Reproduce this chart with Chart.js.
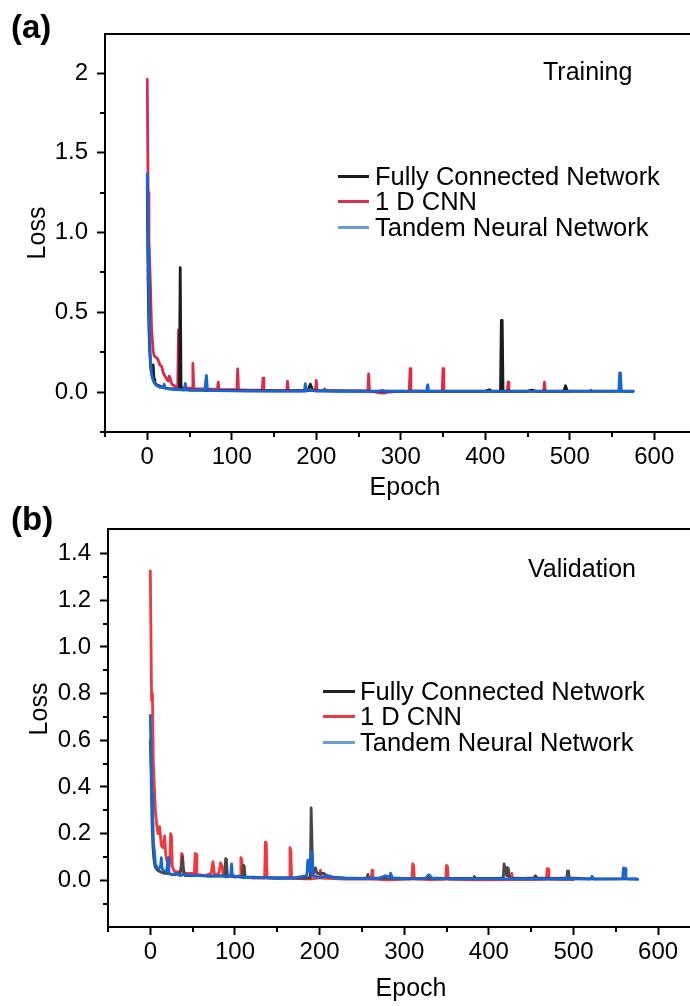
<!DOCTYPE html>
<html>
<head>
<meta charset="utf-8">
<script src="https://cdn.jsdelivr.net/npm/chart.js@4.4.1/dist/chart.umd.min.js"></script>
<style>
html,body{margin:0;padding:0;background:#fff;overflow:hidden;}
body{width:690px;height:1006px;position:relative;font-family:"Liberation Sans",Arial,Helvetica,sans-serif;color:#000;}
.panel{position:absolute;left:0;width:690px;height:503px;overflow:hidden;}
.panel canvas{display:block;}
.lbl{position:absolute;white-space:nowrap;line-height:1;font-size:25px;}
.tag{position:absolute;white-space:nowrap;line-height:1;font-size:33px;font-weight:bold;}
.leg{position:absolute;white-space:nowrap;line-height:1;font-size:25.5px;}
.ytitle{position:absolute;white-space:nowrap;line-height:1;font-size:25px;transform:translate(-50%,-50%) rotate(-90deg);}
</style>
</head>
<body>
<div class="panel" id="pa" style="top:0"><canvas id="ca" width="705" height="503"></canvas></div>
<div class="panel" id="pb" style="top:503px"><canvas id="cb" width="714" height="503"></canvas></div>
<div class="tag" style="left:11px;top:10px">(a)</div>
<div class="tag" style="left:11px;top:502px">(b)</div>
<div class="lbl" style="left:543px;top:59px">Training</div>
<div class="lbl" style="left:528px;top:556px">Validation</div>
<div class="ytitle" style="left:38px;top:709px">Loss</div>
<div id="lega"></div>
<div id="legb"></div>
<script>
// ---------- DATA ----------
const seriesNames = ['Fully Connected Network', '1 D CNN', 'Tandem Neural Network'];
const xTickValues = [0, 100, 200, 300, 400, 500, 600];
const xMinorValues = [-50, 50, 150, 250, 350, 450, 550, 650];

const yTickValuesA = [0, 0.5, 1.0, 1.5, 2.0];
const yTickLabelsA = ['0.0', '0.5', '1.0', '1.5', '2'];
const yMinorValuesA = [-0.25, 0.25, 0.75, 1.25, 1.75];

const yTickValuesB = [0, 0.2, 0.4, 0.6, 0.8, 1.0, 1.2, 1.4];
const yTickLabelsB = ['0.0', '0.2', '0.4', '0.6', '0.8', '1.0', '1.2', '1.4'];
const yMinorValuesB = [-0.1, 0.1, 0.3, 0.5, 0.7, 0.9, 1.1, 1.3];

// (a) Training loss  [epoch, loss]
const trainFCN = [[0,1.30],[1,0.70],[2,0.40],[3,0.25],[4,0.16],[5,0.12],[6,0.10],[7,0.17],[8,0.08],[9,0.06],[10,0.05],[12,0.045],[14,0.04],[16,0.035],[18,0.03],[20,0.028],[25,0.022],[30,0.02],[35,0.018],[38,0.02],[39,0.78],[40,0.02],[41,0.015],[45,0.015],[50,0.012],[60,0.012],[80,0.01],[100,0.01],[120,0.008],[150,0.008],[180,0.008],[190,0.01],[193,0.05],[196,0.01],[220,0.008],[260,0.006],[300,0.006],[350,0.006],[400,0.006],[405,0.015],[407,0.006],[418,0.006],[419,0.45],[420,0.45],[421,0.006],[450,0.006],[455,0.012],[460,0.006],[493,0.006],[495,0.04],[497,0.006],[520,0.006],[550,0.006],[575,0.006]];
const trainCNN = [[0,1.96],[1,1.25],[2,0.95],[3,0.80],[4,0.62],[5,0.41],[6,0.33],[7,0.26],[8,0.23],[10,0.22],[12,0.21],[13,0.20],[15,0.17],[17,0.16],[19,0.12],[21,0.10],[23,0.08],[25,0.07],[26,0.10],[27,0.09],[29,0.05],[32,0.04],[35,0.03],[36,0.03],[37,0.39],[38,0.03],[40,0.03],[45,0.025],[50,0.025],[53,0.025],[54,0.18],[55,0.025],[57,0.02],[65,0.02],[75,0.018],[83,0.018],[84,0.063],[85,0.015],[95,0.015],[106,0.015],[107,0.145],[108,0.015],[120,0.012],[136,0.012],[137,0.088],[138,0.012],[150,0.01],[165,0.01],[166,0.068],[167,0.01],[185,0.01],[199,0.01],[200,0.073],[201,0.01],[230,0.008],[261,0.008],[262,0.115],[263,0.008],[275,-0.004],[280,-0.006],[285,0.0],[300,0.005],[310,0.005],[311,0.147],[312,0.008],[330,0.005],[349,0.005],[350,0.147],[351,0.005],[380,0.005],[410,0.005],[426,0.005],[427,0.063],[428,0.005],[450,0.005],[469,0.005],[470,0.063],[471,0.005],[490,0.005],[500,0.005]];
const trainTNN = [[0,1.37],[1,0.90],[2,0.55],[3,0.30],[4,0.18],[5,0.12],[6,0.09],[8,0.06],[10,0.045],[12,0.04],[15,0.03],[19,0.03],[20,0.05],[21,0.025],[25,0.02],[30,0.018],[40,0.015],[44,0.015],[45,0.055],[46,0.015],[50,0.012],[60,0.012],[68,0.012],[69,0.06],[70,0.105],[71,0.03],[72,0.01],[80,0.01],[100,0.008],[120,0.008],[150,0.006],[180,0.006],[186,0.006],[187,0.053],[188,0.006],[190,0.015],[200,0.006],[209,0.006],[210,0.02],[211,0.006],[230,0.005],[260,0.005],[275,0.005],[278,0.012],[281,0.005],[300,0.005],[320,0.005],[330,0.005],[331,0.03],[332,0.046],[333,0.005],[350,0.005],[400,0.005],[450,0.005],[490,0.005],[500,0.005],[524,0.005],[525,0.012],[526,0.005],[540,0.005],[558,0.005],[559,0.12],[560,0.12],[561,0.005],[562,0.004],[575,0.004]];

// (b) Validation loss  [epoch, loss]
const valFCN = [[0,0.60],[1,0.45],[2,0.25],[3,0.15],[4,0.10],[5,0.07],[6,0.055],[8,0.045],[10,0.04],[13,0.035],[16,0.03],[20,0.03],[25,0.025],[30,0.025],[35,0.03],[37,0.06],[38,0.10],[39,0.05],[41,0.02],[50,0.02],[60,0.02],[70,0.018],[80,0.018],[88,0.02],[89,0.093],[90,0.09],[91,0.02],[100,0.015],[109,0.015],[110,0.065],[111,0.06],[112,0.015],[130,0.012],[150,0.01],[170,0.01],[189,0.01],[190,0.31],[191,0.31],[192,0.02],[195,0.054],[197,0.03],[205,0.03],[210,0.015],[230,0.01],[250,0.008],[256,0.01],[257,0.025],[258,0.01],[300,0.008],[340,0.008],[382,0.008],[383,0.016],[384,0.008],[410,0.008],[417,0.01],[418,0.07],[419,0.07],[421,0.02],[422,0.055],[423,0.05],[424,0.01],[440,0.008],[453,0.01],[455,0.02],[457,0.01],[480,0.008],[492,0.01],[493,0.04],[494,0.04],[495,0.01],[520,0.006],[575,0.006]];
const valCNN = [[0,1.326],[1.5,0.77],[2.5,0.80],[3.5,0.51],[5,0.38],[6,0.30],[7.5,0.24],[9,0.20],[11,0.23],[13,0.15],[15,0.14],[17,0.19],[18,0.12],[19,0.09],[20,0.08],[22,0.06],[23,0.08],[24,0.20],[25,0.19],[26,0.06],[28,0.04],[33,0.035],[36,0.04],[37,0.115],[38,0.11],[39,0.03],[45,0.03],[52,0.03],[53,0.115],[54,0.11],[55,0.025],[65,0.02],[72,0.03],[74,0.08],[76,0.02],[81,0.03],[83,0.075],[85,0.06],[86,0.02],[100,0.015],[106,0.02],[107,0.097],[108,0.09],[109,0.015],[120,0.01],[135,0.01],[136,0.164],[137,0.16],[138,0.01],[150,0.008],[164,0.01],[165,0.14],[166,0.13],[167,0.008],[185,0.006],[190,0.006],[200,0.01],[201,0.044],[202,0.01],[230,0.005],[261,0.005],[262,0.043],[263,0.005],[280,0.002],[300,0.004],[309,0.005],[310,0.071],[311,0.065],[312,0.005],[330,0.003],[349,0.004],[350,0.064],[351,0.06],[352,0.004],[390,0.002],[426,0.003],[427,0.031],[428,0.003],[450,0.003],[468,0.004],[469,0.05],[470,0.048],[471,0.004],[490,0.003],[500,0.003]];
const valTNN = [[0,0.707],[1,0.50],[2,0.37],[3,0.22],[4,0.15],[5,0.12],[6,0.07],[8,0.055],[10,0.05],[12,0.06],[13,0.097],[14,0.05],[16,0.04],[19,0.04],[20,0.06],[21,0.097],[22,0.03],[26,0.025],[30,0.03],[35,0.02],[40,0.025],[50,0.02],[60,0.02],[70,0.018],[80,0.02],[90,0.015],[95,0.02],[96,0.07],[97,0.02],[110,0.012],[130,0.012],[150,0.01],[170,0.01],[185,0.02],[186,0.086],[187,0.04],[189,0.04],[190,0.124],[191,0.12],[192,0.02],[200,0.012],[210,0.02],[220,0.008],[250,0.008],[270,0.008],[278,0.02],[282,0.012],[284,0.03],[286,0.01],[300,0.008],[325,0.008],[329,0.024],[333,0.01],[360,0.006],[400,0.006],[450,0.006],[492,0.006],[493,0.016],[494,0.006],[520,0.005],[522,0.017],[524,0.005],[558,0.006],[559,0.053],[561,0.05],[562,0.006],[576,0.004]];

// ---------- STYLE ----------
const FONT = '"Liberation Sans", Arial, Helvetica, sans-serif';
const colorsA = ['#1c1c1c', '#dc2a4c', '#1766d6'];
const colorsB = ['#474747', '#f2383c', '#1766d6'];
const legendColorsA = ['#1c1c1c', '#dc3050', '#6a9ad8'];
const legendColorsB = ['#222222', '#ee3a45', '#6a9ad8'];

const toXY = arr => arr.map(p => ({x: p[0], y: p[1]}));

const framePlugin = {
  id: 'frame',
  afterDraw(chart, args, opts) {
    const {ctx, chartArea: a, scales: {x, y}} = chart;
    ctx.save();
    ctx.strokeStyle = '#000';
    ctx.lineWidth = 2;
    ctx.beginPath();
    ctx.moveTo(a.left - 1, a.top);
    ctx.lineTo(a.right, a.top);
    opts.xMinor.forEach(v => {
      const px = Math.round(x.getPixelForValue(v));
      ctx.moveTo(px, a.bottom);
      ctx.lineTo(px, a.bottom + 5);
    });
    opts.yMinor.forEach(v => {
      const py = Math.round(y.getPixelForValue(v));
      ctx.moveTo(a.left, py);
      ctx.lineTo(a.left - 5, py);
    });
    ctx.stroke();
    ctx.restore();
  }
};

function makeChart(canvasId, series, colors, cfg) {
  const datasets = series.map((s, i) => ({
    label: seriesNames[i],
    data: toXY(s),
    borderColor: colors[i],
    backgroundColor: colors[i],
    borderWidth: 2.8,
    pointRadius: 0,
    tension: 0,
    borderJoinStyle: 'round',
    borderCapStyle: 'round',
    fill: false,
    order: [1, 2, 0][i]
  }));
  return new Chart(document.getElementById(canvasId), {
    type: 'line',
    data: {datasets},
    options: {
      responsive: false,
      animation: false,
      events: [],
      layout: {padding: {top: cfg.top, left: 0, right: 0, bottom: 0}, autoPadding: false},
      plugins: {
        legend: {display: false},
        tooltip: {enabled: false},
        frame: {xMinor: xMinorValues, yMinor: cfg.yMinor}
      },
      scales: {
        x: {
          type: 'linear',
          min: -50,
          max: cfg.xMax,
          afterFit: s => { s.height = cfg.xHeight; },
          afterBuildTicks: s => { s.ticks = xTickValues.map(v => ({value: v})); },
          border: {display: true, color: '#000', width: 2},
          grid: {display: true, drawOnChartArea: false, drawTicks: true, tickLength: 8, tickWidth: 2, tickColor: '#000'},
          ticks: {color: '#000', font: {family: FONT, size: 24}, padding: 3, maxRotation: 0, autoSkip: false,
                  callback: v => String(v)},
          title: {display: true, text: 'Epoch', color: '#000', font: {family: FONT, size: 25}, padding: {top: 0, bottom: cfg.xTitlePad}}
        },
        y: {
          type: 'linear',
          min: cfg.yMin,
          max: cfg.yMax,
          afterFit: s => { s.width = cfg.yWidth; },
          afterBuildTicks: s => { s.ticks = cfg.yTicks.map(v => ({value: v})); },
          border: {display: true, color: '#000', width: 2},
          grid: {display: true, drawOnChartArea: false, drawTicks: true, tickLength: 8, tickWidth: 2, tickColor: '#000'},
          ticks: {color: '#000', font: {family: FONT, size: 24}, padding: 9, autoSkip: false,
                  callback: (v, i) => cfg.yLabels[i]},
          title: {display: cfg.yTitle, text: 'Loss', color: '#000', font: {family: FONT, size: 25}, padding: {top: 23, bottom: 0}}
        }
      }
    },
    plugins: [framePlugin]
  });
}

const chartA = makeChart('ca', [trainFCN, trainCNN, trainTNN], colorsA, {
  top: 34, xHeight: 71, yWidth: 105, xMax: 660, yMin: -0.25, yMax: 2.245,
  yTicks: yTickValuesA, yLabels: yTickLabelsA, yMinor: yMinorValuesA, xTitlePad: 0, yTitle: true
});
const chartB = makeChart('cb', [valFCN, valCNN, valTNN], colorsB, {
  top: 26, xHeight: 79, yWidth: 108, xMax: 666, yMin: -0.2, yMax: 1.505,
  yTicks: yTickValuesB, yLabels: yTickLabelsB, yMinor: yMinorValuesB, xTitlePad: 2, yTitle: false
});

function buildLegend(chart, containerId, legendColors, lineLeft, lineRight, textLeft, rowCenters) {
  const box = document.getElementById(containerId);
  chart.data.datasets.forEach((ds, i) => {
    const ln = document.createElement('div');
    ln.style.cssText = `position:absolute;left:${lineLeft}px;width:${lineRight - lineLeft}px;top:${rowCenters[i] - 1.5}px;height:3px;background:${legendColors[i]};`;
    box.appendChild(ln);
    const t = document.createElement('div');
    t.className = 'leg';
    t.style.left = textLeft + 'px';
    t.style.top = (rowCenters[i] - 12.5) + 'px';
    t.textContent = ds.label;
    box.appendChild(t);
  });
}
buildLegend(chartA, 'lega', legendColorsA, 338, 369, 375, [176, 201, 227]);
buildLegend(chartB, 'legb', legendColorsB, 323, 355, 360, [691, 716, 742]);
</script>
</body>
</html>
